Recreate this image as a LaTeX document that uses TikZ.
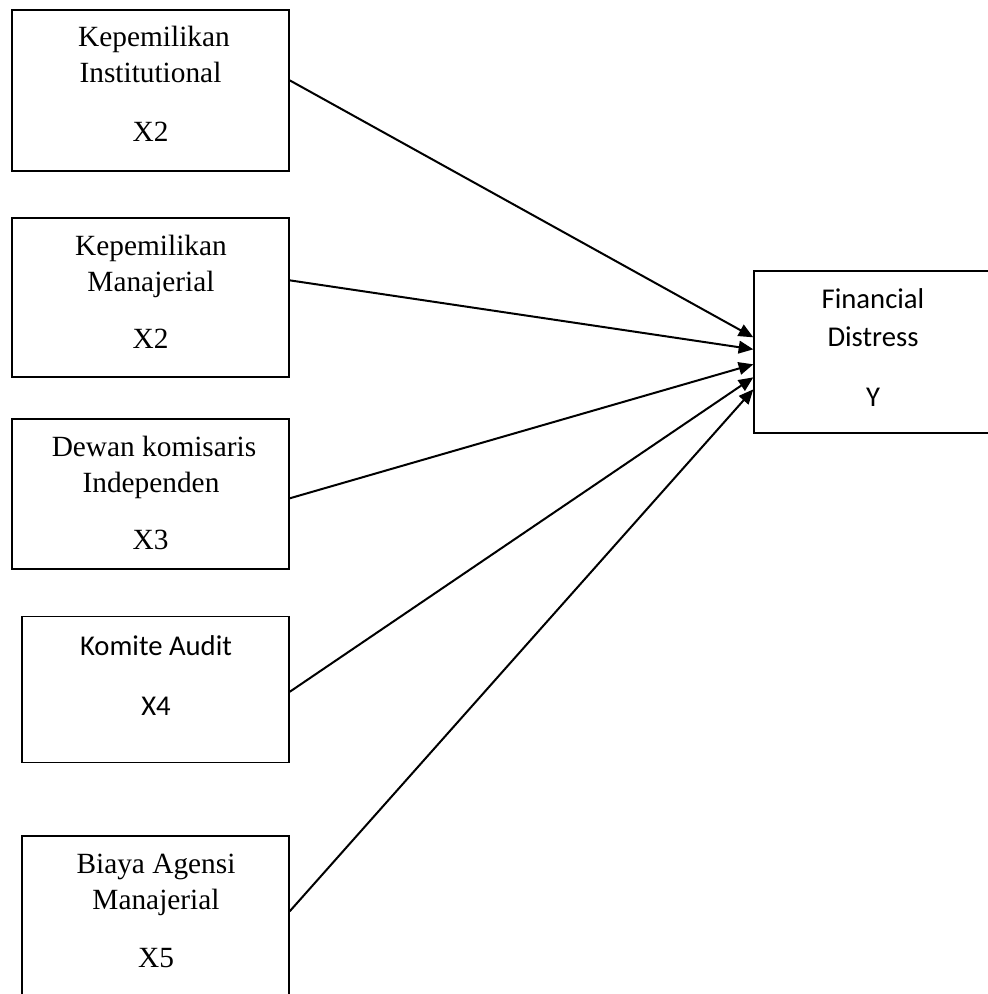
\documentclass[tikz,border=0pt]{standalone}
\usepackage{fontspec}
\setmainfont{Liberation Serif}
\newfontfamily\calibrifont{Carlito}
\usetikzlibrary{arrows.meta,calc}
\tikzset{
  box/.style={draw, line width=1pt, inner sep=0pt, rectangle},
  lbl/.style={anchor=base, inner sep=0pt, font=\fontsize{22}{26}\selectfont},
  lblc/.style={anchor=base, inner sep=0pt, font=\calibrifont\fontsize{21.5}{26}\selectfont},
  arr/.style={line width=1.5pt, -{Triangle[length=11pt,width=9.5pt]}}
}
\begin{document}
\begin{tikzpicture}[x=0.75pt,y=-0.75pt]
\useasboundingbox (0,0) rectangle (987,994);
% boxes
\node[box, minimum width=207.75pt, minimum height=120.75pt] (b1) at (150.5,90.5) {};
\node[box, minimum width=207.75pt, minimum height=119.25pt] (b2) at (150.5,297.5) {};
\node[box, minimum width=207.75pt, minimum height=112.5pt] (b3) at (150.5,494) {};
\node[box, minimum width=200.25pt, minimum height=109.5pt] (b4) at (155.5,689.5) {};
\node[box, minimum width=200.25pt, minimum height=198pt] (b5) at (155.5,968) {};
\node[box, minimum width=259.5pt, minimum height=121.5pt] (y) at (927,352) {};
% texts
\node[lbl] (t1a) at (154,47) {Kepemilikan};
\node[lbl] (t1b) at (150.5,83) {Institutional};
\node[lbl] (t1c) at (150.5,142) {X2};
\node[lbl] (t2a) at (151,256) {Kepemilikan};
\node[lbl] (t2b) at (151,292) {Manajerial};
\node[lbl] (t2c) at (150.5,349) {X2};
\node[lbl] (t3a) at (154,456) {Dewan komisaris};
\node[lbl] (t3b) at (151,492) {Independen};
\node[lbl] (t3c) at (150.5,549) {X3};
\node[lblc] (t4a) at (156,655) {Komite Audit};
\node[lblc] (t4b) at (156,715) {X4};
\node[lbl] (t5a) at (156,873) {Biaya Agensi};
\node[lbl] (t5b) at (156,909) {Manajerial};
\node[lbl] (t5c) at (156,967) {X5};
\node[lblc] (tya) at (873,309) {Financial};
\node[lblc] (tyb) at (873,347) {Distress};
\node[lblc] (tyc) at (873,406) {Y};
% connector endpoints
\coordinate (s1) at ($(b1.north east)+(0,71)$);
\coordinate (s2) at ($(b2.north east)+(0,63)$);
\coordinate (s3) at ($(b3.north east)+(0,80)$);
\coordinate (s4) at ($(b4.north east)+(0,76)$);
\coordinate (s5) at ($(b5.north east)+(0,76)$);
\coordinate (e1) at ($(y.north west)+(0,67)$);
\coordinate (e2) at ($(y.north west)+(0,79)$);
\coordinate (e3) at ($(y.north west)+(0,94)$);
\coordinate (e4) at ($(y.north west)+(0,107)$);
\coordinate (e5) at ($(y.north west)+(0,119)$);
\draw[arr] (s1) -- (e1);
\draw[arr] (s2) -- (e2);
\draw[arr] (s3) -- (e3);
\draw[arr] (s4) -- (e4);
\draw[arr] (s5) -- (e5);
\end{tikzpicture}
\end{document}
